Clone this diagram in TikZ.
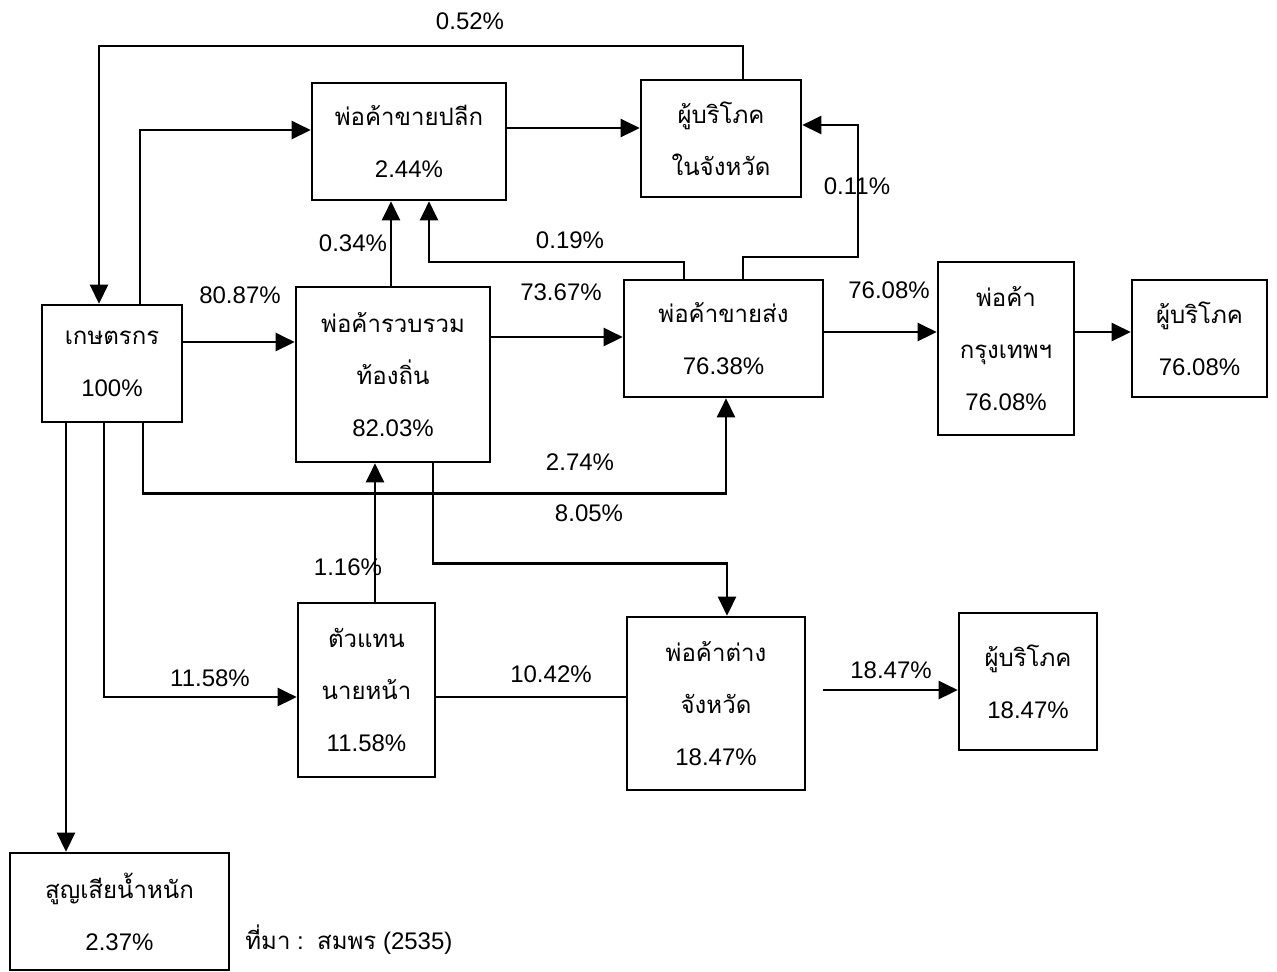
\documentclass[tikz,border=0pt]{standalone}
\usepackage{fontspec}
\setmainfont{Liberation Sans}
\newfontfamily\thaifont[Script=Thai]{Loma}
\usetikzlibrary{arrows.meta}

\begin{document}
\begin{tikzpicture}[x=0.5pt,y=-0.5pt]

    \tikzset{
      box/.style={
        draw,
        line width=1.3pt,
        align=center,
        inner sep=0pt,
        font=\fontsize{12}{26}\selectfont,
      },
      flow/.style={
        line width=1.2pt,
        -{Triangle[length=9.5pt,width=9pt]},
      },
      pct/.style={
        font=\fontsize{12}{14}\selectfont,
        inner sep=0pt,
      },
    }
    \useasboundingbox (0,0) rectangle (1277,971);

    \node[box, minimum width=70pt, minimum height=58.5pt] (farmer) at (112,363.5) {{\thaifont เกษตรกร}\\100\%};
    \node[box, minimum width=97pt, minimum height=58.5pt] (retail) at (409,141.5) {{\thaifont พ่อค้าขายปลีก}\\2.44\%};
    \node[box, minimum width=97pt, minimum height=87.5pt] (collector) at (393,374.5) {{\thaifont พ่อค้ารวบรวม}\\{\thaifont ท้องถิ่น}\\82.03\%};
    \node[box, minimum width=80pt, minimum height=58.5pt] (consprov) at (721,138.5) {{\thaifont ผู้บริโภค}\\{\thaifont ในจังหวัด}};
    \node[box, minimum width=99.5pt, minimum height=58.5pt] (wholesale) at (723.5,338.5) {{\thaifont พ่อค้าขายส่ง}\\76.38\%};
    \node[box, minimum width=68pt, minimum height=86.5pt] (bkk) at (1006,348.5) {{\thaifont พ่อค้า}\\{\thaifont กรุงเทพฯ}\\76.08\%};
    \node[box, minimum width=67.5pt, minimum height=58.5pt] (consbkk) at (1199.5,338.5) {{\thaifont ผู้บริโภค}\\76.08\%};
    \node[box, minimum width=68.5pt, minimum height=87pt] (agent) at (366.5,690) {{\thaifont ตัวแทน}\\{\thaifont นายหน้า}\\11.58\%};
    \node[box, minimum width=89pt, minimum height=86.5pt] (provincial) at (716,703.5) {{\thaifont พ่อค้าต่าง}\\{\thaifont จังหวัด}\\18.47\%};
    \node[box, minimum width=69pt, minimum height=68.5pt] (consprv) at (1028,681.5) {{\thaifont ผู้บริโภค}\\18.47\%};
    \node[box, minimum width=109.5pt, minimum height=58.5pt] (loss) at (119.5,911.5) {{\thaifont สูญเสียน้ำหนัก}\\2.37\%};

    \coordinate (t052) at (99,46);
    \coordinate (s1847) at (823,690);

    \draw[flow] ([xshift=11pt]consprov.north) |- (t052) -- (t052 |- farmer.north);
    \draw[flow] ([xshift=14pt]farmer.north) |- ([yshift=5.75pt]retail.west);
    \draw[flow] ([yshift=10.75pt]farmer.east) -- ([yshift=16.25pt]collector.west);
    \draw[flow] ([xshift=-1pt]collector.north) -- ([xshift=-9pt]retail.south);
    \draw[flow] ([xshift=-19.75pt]wholesale.north) -- ++(0,-17) -| ([xshift=10pt]retail.south);
    \draw[flow] ([yshift=6.75pt]retail.east) -- ([yshift=5.25pt]consprov.west);
    \draw[flow] ([xshift=9.75pt]wholesale.north) -- ++(0,-22) -- ++(115,0) |- ([yshift=6.75pt]consprov.east);
    \draw[flow] ([yshift=18.75pt]collector.east) -- ([yshift=0.75pt]wholesale.west);
    \draw[flow] ([yshift=3.25pt]wholesale.east) -- ([yshift=8.25pt]bkk.west);
    \draw[flow] ([yshift=8.25pt]bkk.east) -- ([yshift=3.25pt]consbkk.west);
    \draw[flow] ([xshift=15.5pt]farmer.south) -- ++(0,70) -| ([xshift=1.25pt]wholesale.south);
    \draw[flow] ([xshift=20pt]collector.south) -- ++(0,100) -| ([xshift=5.5pt]provincial.north);
    \draw[flow] ([xshift=-4pt]farmer.south) |- ([yshift=-3.5pt]agent.west);
    \draw[flow] ([xshift=-23pt]farmer.south) -- ([xshift=-26.75pt]loss.north);
    \draw[flow] ([xshift=4.25pt]agent.north) -- ([xshift=-9pt]collector.south);
    \draw[line width=1.2pt] ([yshift=-3.5pt]agent.east) -- ([yshift=3.25pt]provincial.west);
    \draw[flow] (s1847) -- ([yshift=-4.25pt]consprv.west);

    \node[pct] (p052) at (470,21) {0.52\%};
    \node[pct] (p8087) at (240,295) {80.87\%};
    \node[pct] (p034) at (353,243) {0.34\%};
    \node[pct] (p019) at (570,240) {0.19\%};
    \node[pct] (p7367) at (561,292) {73.67\%};
    \node[pct] (p011) at (857,186) {0.11\%};
    \node[pct] (p7608) at (889,290) {76.08\%};
    \node[pct] (p274) at (580,462) {2.74\%};
    \node[pct] (p805) at (589,513) {8.05\%};
    \node[pct] (p116) at (348,567) {1.16\%};
    \node[pct] (p1158) at (210,678) {11.58\%};
    \node[pct] (p1042) at (551,674) {10.42\%};
    \node[pct] (p1847) at (891,670) {18.47\%};

    \node[pct, anchor=west] (source) at (245,940) {{\thaifont ที่มา} :\ \ {\thaifont สมพร} (2535)};

\end{tikzpicture}
\end{document}
